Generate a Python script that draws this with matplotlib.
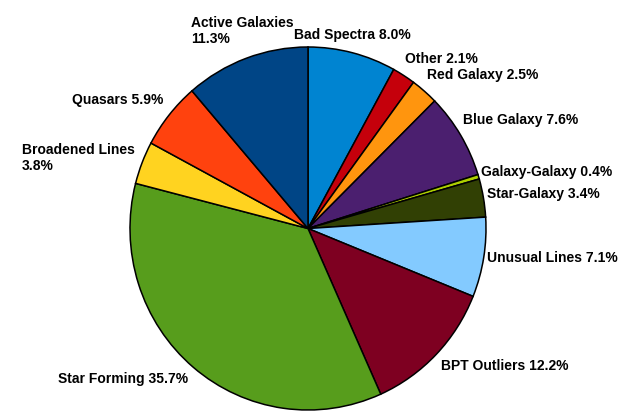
import matplotlib
matplotlib.use("Agg")
import matplotlib.pyplot as plt

categories = ["Bad Spectra", "Other", "Red Galaxy", "Blue Galaxy", "Galaxy-Galaxy",
              "Star-Galaxy", "Unusual Lines", "BPT Outliers", "Star Forming",
              "Broadened Lines", "Quasars", "Active Galaxies"]
percents = [8.0, 2.1, 2.5, 7.6, 0.4, 3.4, 7.1, 12.2, 35.7, 3.8, 5.9, 11.3]
colors = ["#0084d1", "#c5000b", "#ff950e", "#4b1f6f", "#aecf00", "#314004",
          "#83caff", "#7e0021", "#579d1c", "#ffd320", "#ff420e", "#004586"]
# label text layout: (left x px, center y px)
label_pos = [(294, 35), (405, 59), (427, 75), (463, 120), (481, 172),
             (487, 194), (487, 258), (441, 366), (58, 379), (22, 158),
             (72, 100), (191, 31)]
two_line = {"Broadened Lines", "Active Galaxies"}

W, H = 641, 418
fig = plt.figure(figsize=(W / 100, H / 100), dpi=100)
cx, cy, rx, ry = 308, 228.5, 178, 181.5
ax = fig.add_axes([(cx - rx) / W, (H - cy - ry) / H, 2 * rx / W, 2 * ry / H])
ax.pie(percents, colors=colors, startangle=90, counterclock=False,
       wedgeprops=dict(edgecolor="black", linewidth=1.1))
ax.set_aspect("auto")
ax.set_xlim(-1, 1)
ax.set_ylim(-1, 1)
ax.axis("off")

for name, val, (x, y) in zip(categories, percents, label_pos):
    sep = "\n" if name in two_line else " "
    fig.text(x / W, 1 - y / H, f"{name}{sep}{val:.1f}%", ha="left", va="center",
             fontsize=10, fontweight="bold", family=["Liberation Sans", "DejaVu Sans"],
             linespacing=1.1)

fig.savefig("out.png", dpi=100)
